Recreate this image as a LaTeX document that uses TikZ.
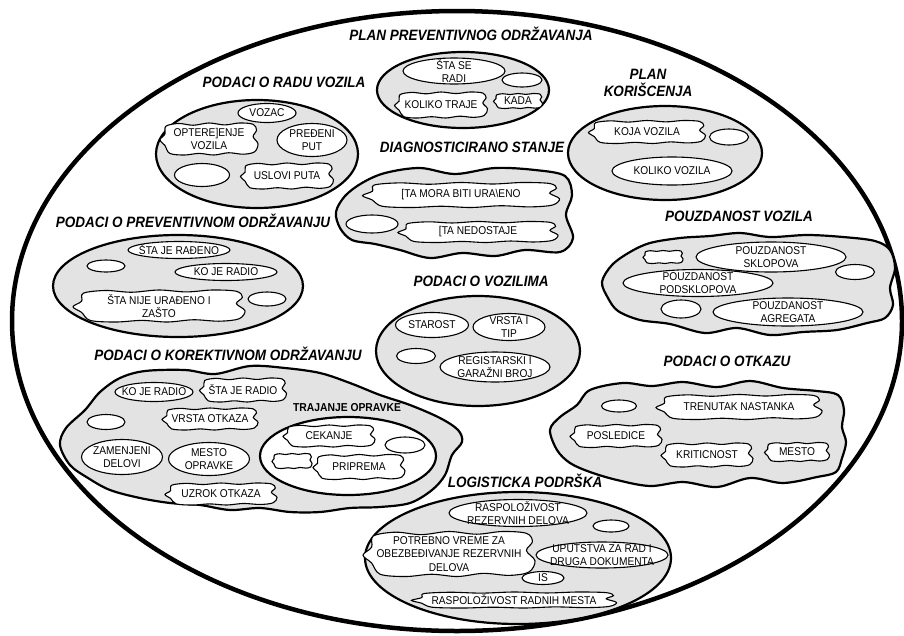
\documentclass[tikz,border=0pt]{standalone}
\usepackage{fontspec}
\setmainfont{Liberation Sans}
\newfontfamily\lblf[FakeStretch=0.9]{Liberation Sans}
\usetikzlibrary{shapes.geometric}
\definecolor{fillg}{gray}{0.89}
\tikzset{
 grpline/.style={draw, line width=2.2pt, fill=fillg},
 inel/.style={ellipse, draw, fill=white, line width=1.1pt, inner sep=0pt},
 wvs/.style={draw, fill=white, line width=1.1pt},
 lbl/.style={font=\lblf\fontsize{11.3}{13.5}\selectfont, align=center, inner sep=0pt},
 ttl/.style={font=\lblf\bfseries\itshape\fontsize{15}{17}\selectfont, align=center, inner sep=0pt},
 subttl/.style={font=\lblf\bfseries\fontsize{11.5}{13}\selectfont, inner sep=0pt},
}
% group ellipse
\newcommand\GE[5]{\node[ellipse, grpline, inner sep=0pt, minimum width={2*#4}, minimum height={2*#5}] (#1) at (#2,#3) {};}
% inner ellipse with text
\newcommand\IE[6]{\node[inel, minimum width={2*#4}, minimum height={2*#5}] (#1) at (#2,#3) {};
 \node[lbl] (#1t) at (#1) {#6};}
% wavy shape with text
\newcommand\WV[6]{\draw[wvs, shift={(#2,#3)}, xscale=#4, yscale=#5] plot[smooth cycle, tension=0.55] coordinates {
 (-0.88,-0.80) (-0.62,-0.97) (-0.32,-0.86) (0.0,-1.0) (0.32,-0.88) (0.62,-1.0) (0.9,-0.92)
 (0.97,-0.55) (0.9,-0.15) (1.0,0.3) (0.93,0.8)
 (0.7,0.95) (0.4,0.86) (0.1,1.0) (-0.2,0.9) (-0.5,1.0) (-0.8,0.9)
 (-0.9,0.4) (-1.0,0.05) (-0.9,-0.3)};
 \node[lbl] (#1) at (#2,#3) {#6};}
\begin{document}
\begin{tikzpicture}[x=1pt,y=-1pt]
\useasboundingbox (0,0) rectangle (904,635);
\fill[white] (0,0) rectangle (904,635);
\node[ellipse, draw, line width=4.5pt, inner sep=0pt, minimum width=890pt, minimum height=620pt] (outer) at (457,321) {};

% ---- Plan preventivnog odrzavanja
\GE{ppo}{463}{90}{86}{38}
\IE{ppo1}{454}{71}{51}{13}{ŠTA SE\\RADI}
\IE{ppo2}{522}{80}{20}{7}{}
\WV{ppo3}{441}{105}{46.5}{13}{KOLIKO TRAJE}
\WV{ppo4}{518}{101}{24.5}{7.5}{KADA}
\node[ttl] (tppo) at (471,34) {PLAN PREVENTIVNOG ODRŽAVANJA};

% ---- Podaci o radu vozila
\GE{rv}{257}{154}{101}{54}
\IE{rv1}{267}{113}{29}{9.5}{VOZAC}
\WV{rv2}{209}{139}{49}{16}{OPTERE]ENJE\\VOZILA}
\IE{rv3}{312}{140}{35}{16.5}{PREĐENI\\PUT}
\IE{rv4}{202}{175}{27.5}{11.5}{}
\WV{rv5}{287}{176}{46.5}{13}{USLOVI PUTA}
\node[ttl] (trv) at (284,82) {PODACI O RADU VOZILA};

% ---- Plan koriscenja
\GE{pk}{665}{153}{97}{47}
\WV{pk1}{647}{132}{58.5}{11.5}{KOJA VOZILA}
\IE{pk2}{729}{137}{19.5}{8}{}
\IE{pk3}{672}{171}{60}{14}{KOLIKO VOZILA}
\node[ttl] (tpk) at (648,83) {PLAN\\KORIŠCENJA};

% ---- Diagnosticirano stanje
\draw[grpline] plot[smooth cycle, tension=0.55] coordinates {
 (336,212) (345,196) (362,183) (385,173) (420,168) (455,174) (495,168) (535,170) (565,176)
 (572,195) (566,215) (573,238) (560,252) (525,250) (495,256) (462,253) (430,258) (400,250)
 (375,244) (352,240) (340,228)};
\coordinate (ds) at (455,212);
\WV{ds1}{461}{195}{98.5}{12.5}{[TA MORA BITI URA\textbackslash ENO}
\IE{ds2}{372}{224}{26}{9}{}
\WV{ds3}{478}{232}{80}{10.5}{[TA NEDOSTAJE}
\node[ttl] (tds) at (472,147) {DIAGNOSTICIRANO STANJE};

% ---- Podaci o preventivnom odrzavanju
\GE{pr}{178}{286}{125}{51}
\IE{pr1}{179}{250}{51}{8.5}{ŠTA JE RAĐENO}
\IE{pr2}{106}{266}{19}{6}{}
\IE{pr3}{226}{272}{51}{8.5}{KO JE RADIO}
\WV{pr4}{159}{306}{86}{16}{ŠTA NIJE URAĐENO I\\ZAŠTO}
\IE{pr5}{267}{299}{19}{7}{}
\node[ttl] (tpr) at (193,221) {PODACI O PREVENTIVNOM ODRŽAVANJU};

% ---- Podaci o vozilima
\GE{vz}{478}{351}{102}{55}
\IE{vz1}{432}{325}{36.5}{12.5}{STAROST}
\IE{vz2}{509}{327}{36}{13.5}{VRSTA I\\TIP}
\IE{vz3}{416}{356}{19.5}{7.5}{}
\IE{vz4}{495}{367}{55}{15}{REGISTARSKI I\\GARAŽNI BROJ}
\node[ttl] (tvz) at (481,281) {PODACI O VOZILIMA};

% ---- Pouzdanost vozila
\draw[grpline] plot[smooth cycle, tension=0.55] coordinates {
 (602,282) (612,265) (630,252) (650,243) (680,238) (710,236) (740,233) (770,237) (807,235)
 (843,237) (875,241) (890,250) (895,268) (890,288) (893,305) (885,318) (867,323) (837,330)
 (803,332) (770,335) (737,328) (705,333) (670,324) (640,320) (618,311) (608,298)};
\coordinate (pv) at (750,285);
\WV{pv1}{663}{257}{20}{6.5}{}
\IE{pv2}{771}{257}{75}{15}{POUZDANOST\\SKLOPOVA}
\IE{pv3}{855}{272}{19.5}{7.5}{}
\IE{pv4}{698}{283}{75}{13.5}{POUZDANOST\\PODSKLOPOVA}
\IE{pv5}{681}{309}{20}{9}{}
\IE{pv6}{788}{312}{75}{14}{POUZDANOST\\AGREGATA}
\node[ttl] (tpv) at (739,216) {POUZDANOST VOZILA};

% ---- Podaci o korektivnom odrzavanju
\draw[grpline] plot[smooth cycle, tension=0.55] coordinates {
 (60,445) (66,428) (85,410) (100,392) (120,378) (145,371) (185,370) (215,374) (250,366)
 (285,368) (320,373) (350,383) (380,395) (410,405) (440,418) (458,430) (462,442) (452,455)
 (445,475) (432,490) (410,503) (380,507) (350,508) (320,512) (290,512) (260,508) (230,510)
 (200,505) (170,503) (140,498) (110,490) (88,478) (70,465)};
\coordinate (ko) at (260,440);
\IE{ko1}{154}{392}{39}{9.5}{KO JE RADIO}
\WV{ko2}{243}{390}{43.5}{12}{ŠTA JE RADIO}
\IE{ko3}{106}{422}{19}{7.5}{}
\WV{ko4}{210}{419}{48}{11}{VRSTA OTKAZA}
\node[subttl] (tko5) at (347,408) {TRAJANJE OPRAVKE};
\node[ellipse, draw, fill=white, line width=2.2pt, inner sep=0pt, minimum width=176pt, minimum height=78pt] (ko5) at (348,456) {};
\WV{ko6}{329}{436}{46}{11}{CEKANJE}
\IE{ko7}{405}{445}{20}{8}{}
\WV{ko8}{292}{461}{20}{7.5}{}
\WV{ko9}{359}{467}{46}{12.5}{PRIPREMA}
\IE{ko10}{122}{457}{40.5}{17.5}{ZAMENJENI\\DELOVI}
\IE{ko11}{209}{459}{40.5}{16.5}{MESTO\\OPRAVKE}
\WV{ko12}{221}{494}{56}{11}{UZROK OTKAZA}
\node[ttl] (tko) at (228,354) {PODACI O KOREKTIVNOM ODRŽAVANJU};

% ---- Podaci o otkazu
\draw[grpline] plot[smooth cycle, tension=0.55] coordinates {
 (550,430) (560,417) (577,405) (590,390) (623,383) (652,386) (683,382) (717,387) (750,381)
 (783,388) (817,391) (838,395) (844,410) (842,427) (846,442) (842,458) (836,472) (817,477)
 (783,483) (750,478) (717,487) (683,482) (650,486) (617,480) (590,472) (570,463) (557,450)};
\coordinate (ot) at (700,435);
\IE{ot1}{619}{406}{17.5}{6}{}
\WV{ot2}{739}{407}{83}{12.5}{TRENUTAK NASTANKA}
\WV{ot3}{616}{436}{46}{11.5}{POSLEDICE}
\WV{ot4}{707}{455}{46}{12}{KRITICNOST}
\WV{ot5}{797}{452}{32.5}{9.5}{MESTO}
\node[ttl] (tot) at (727,361) {PODACI O OTKAZU};

% ---- Logisticka podrska
\GE{lp}{518}{558}{153}{66}
\IE{lp1}{518}{513}{69}{13.5}{RASPOLOŽIVOST\\REZERVNIH DELOVA}
\IE{lp2}{611}{526}{18}{6}{}
\WV{lp3}{449}{554}{86}{22.5}{POTREBNO VREME ZA\\OBEZBEĐIVANJE REZERVNIH\\DELOVA}
\IE{lp4}{602}{555}{66}{13}{UPUTSTVA ZA RAD I\\DRUGA DOKUMENTA}
\IE{lp5}{543}{578}{21}{6.5}{IS}
\WV{lp6}{514}{600}{102.5}{8}{RASPOLOŽIVOST RADNIH MESTA}
\node[ttl] (tlp) at (525,481) {LOGISTICKA PODRŠKA};
\end{tikzpicture}
\end{document}
